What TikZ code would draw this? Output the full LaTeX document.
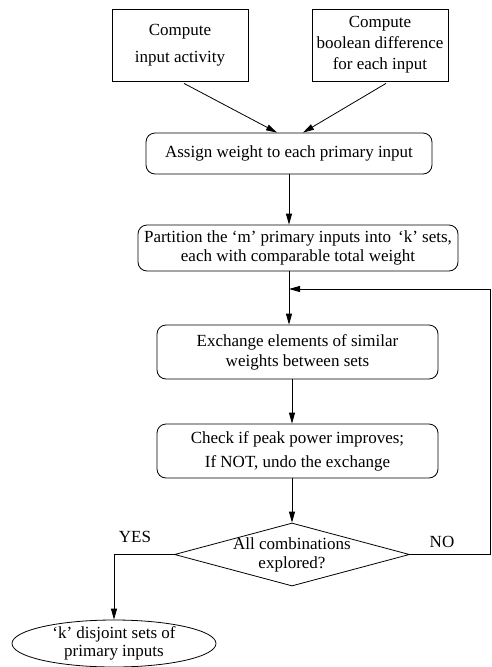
\documentclass[tikz,border=0pt]{standalone}
\usepackage{fontspec}
\setmainfont{Liberation Serif}
\usetikzlibrary{arrows.meta,calc,shapes.geometric}
\tikzset{
  >={Triangle[length=11pt,width=6pt]},
  blk/.style={draw,line width=0.8pt,align=center,inner sep=0pt},   % plain box
  rblk/.style={blk,rounded corners=9pt},                           % process step
  dec/.style={draw,line width=0.8pt,diamond,align=center,shape aspect=5,
              inner xsep=-15pt,inner ysep=-8pt,
              minimum width=235pt,minimum height=63pt},            % decision
  term/.style={draw,line width=0.8pt,ellipse,align=center,inner sep=-2pt,
               minimum width=204pt,minimum height=47pt},           % result
  link/.style={->,line width=0.8pt},
  lbl/.style={inner sep=0pt},
}
\begin{document}
\begin{tikzpicture}[x=1pt,y=-1pt,font=\fontsize{17}{21}\selectfont]
  \useasboundingbox (0,0) rectangle (491,667);
  % inputs
  \node[blk,minimum width=136pt,minimum height=72pt] (act) at (180,45) {Compute\\[6pt]input activity};
  \node[blk,minimum width=136pt,minimum height=72pt] (bdf) at (380,45) {Compute\\boolean difference\\for each input};
  % steps
  \node[rblk,minimum width=286pt,minimum height=41pt] (asg) at (289,153.5) {Assign weight to each primary input};
  \node[rblk,minimum width=320pt,minimum height=46pt] (part) at (298,248)
    {Partition the `m' primary inputs into\, `k' sets,\\[-2.5pt]each with comparable total weight};
  \node[rblk,minimum width=281pt,minimum height=54pt] (exch) at (297.5,352)
    {Exchange elements of similar\\[-1pt]weights between sets};
  \node[rblk,minimum width=281pt,minimum height=54pt] (chk) at (297.5,451)
    {Check if peak power improves;\\[3pt]If NOT, undo the exchange};
  \node[dec] (done) at (292,554.5) {All combinations\\[-2pt]explored?};
  \node[term] (fin) at (114,643.5) {`k' disjoint sets of\\[-3pt]primary inputs};
  \coordinate (loop) at (289,289);
  \coordinate (ret) at (490,289);
  % connectors
  \draw[link] ([xshift=4pt,yshift=-2pt]act.south) -- ([xshift=-12pt]asg.north);
  \draw[link] ([xshift=6pt,yshift=-2pt]bdf.south) -- ([xshift=14pt]asg.north);
  \draw[link] (asg.south) -- (asg.south |- part.north);
  \draw[link] (asg.south |- part.south) -- (asg.south |- exch.north);
  \draw[link] (done.north |- exch.south) -- (done.north |- chk.north);
  \draw[link] (done.north |- chk.south) -- (done.north);
  \draw[link] (done.east) -| (ret) -- (loop);
  \draw[link] (done.west) -| (fin.north);
  \node[lbl] (yes) at (135,537) {YES};
  \node[lbl] (no) at (442,542) {NO};
\end{tikzpicture}
\end{document}
